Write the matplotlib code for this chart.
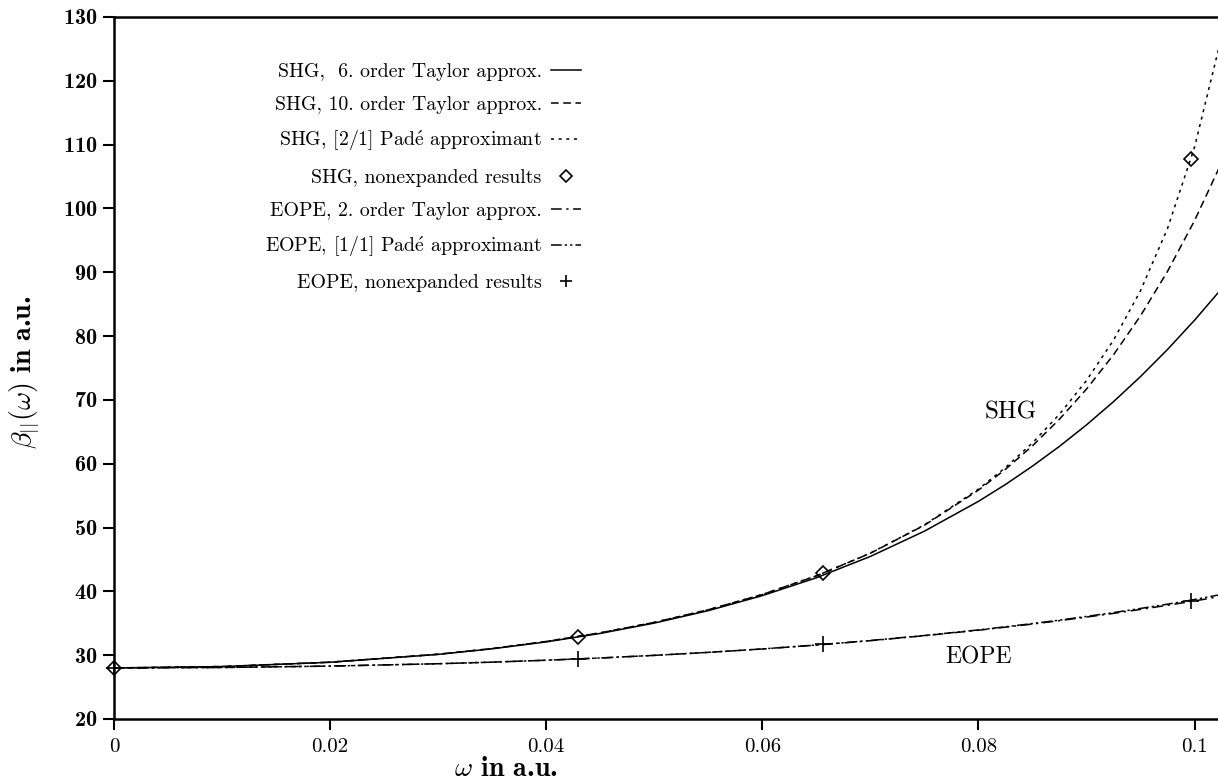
import numpy as np
import matplotlib
matplotlib.use("Agg")
import matplotlib.pyplot as plt
from matplotlib.lines import Line2D

plt.rcParams['font.family'] = ['cmr10', 'DejaVu Serif']
plt.rcParams['mathtext.fontset'] = 'cm'
plt.rcParams['axes.formatter.use_mathtext'] = True

omega = [0.0, 0.01, 0.02, 0.03, 0.035, 0.04, 0.045, 0.05, 0.055, 0.06, 0.065,
         0.07, 0.075, 0.08, 0.0825, 0.085, 0.0875, 0.09, 0.0925, 0.095, 0.0975, 0.1, 0.1025]

# SHG curves
shg_taylor6 = [28.0, 28.21, 28.89, 30.12, 31.0, 32.08, 33.41, 35.03, 36.98, 39.33, 42.13,
               45.47, 49.43, 54.1, 56.74, 59.62, 62.72, 66.08, 69.72, 73.65, 77.9, 82.48, 87.41]
shg_taylor10 = [28.0, 28.22, 28.9, 30.15, 31.04, 32.15, 33.5, 35.14, 37.12, 39.51, 42.42,
                45.97, 50.36, 55.86, 59.12, 62.8, 66.97, 71.69, 77.06, 83.17, 90.13, 98.08, 107.16]
shg_pade21 = [28.0, 28.22, 28.9, 30.15, 31.04, 32.15, 33.5, 35.14, 37.12, 39.51, 42.43,
              45.99, 50.41, 56.02, 59.39, 63.26, 67.75, 73.03, 79.35, 87.1, 96.85, 109.58, 126.85]

# EOPE curves
eope_taylor2 = [28.0, 28.07, 28.29, 28.66, 28.91, 29.21, 29.56, 29.97, 30.44, 30.97, 31.58,
                32.27, 33.05, 33.91, 34.39, 34.88, 35.41, 35.97, 36.55, 37.17, 37.82, 38.5, 39.22]
eope_pade11 = [28.0, 28.07, 28.29, 28.66, 28.91, 29.21, 29.56, 29.97, 30.44, 30.98, 31.6,
               32.3, 33.08, 33.96, 34.45, 34.95, 35.49, 36.07, 36.67, 37.32, 37.99, 38.72, 39.52]

# nonexpanded results
omega_pts = [0.0, 0.0429, 0.0656, 0.0997]
shg_pts = [28.0, 32.85, 42.9, 107.8]
eope_pts = [28.0, 29.4, 31.75, 38.5]

# Padé written with a mathtext accent so it stays in Computer Modern
pade = r"Pad$\mathrm{\acute{e}}$"
labels = ["SHG,  6. order Taylor approx.",
          "SHG, 10. order Taylor approx.",
          "SHG, [2/1] " + pade + " approximant",
          "SHG, nonexpanded results",
          "EOPE, 2. order Taylor approx.",
          "EOPE, [1/1] " + pade + " approximant",
          "EOPE, nonexpanded results"]

W, H = 1218, 782
fig = plt.figure(figsize=(W / 100, H / 100), dpi=100)
ax = fig.add_axes([114 / W, (H - 719) / H, (W - 114) / W + 0.002, 702 / H])

lw = 1.1
ls_dash = (0, (5, 3))
ls_dot = (0, (2, 3))
ls_dashdot = (0, (7, 3, 1.5, 3))
ls_dashdotdot = (0, (7, 2, 1.5, 2, 1.5, 2))

ax.plot(omega, shg_taylor6, color='k', lw=lw, ls='-')
ax.plot(omega, shg_taylor10, color='k', lw=lw, ls=ls_dash)
ax.plot(omega, shg_pade21, color='k', lw=lw, ls=ls_dot)
ax.plot(omega, eope_taylor2, color='k', lw=lw, ls=ls_dashdot)
ax.plot(omega, eope_pade11, color='k', lw=lw, ls=ls_dashdotdot)
ax.plot(omega_pts, shg_pts, ls='none', marker='D', ms=7, mfc='none', mec='k', mew=1.2, clip_on=False)
ax.plot(omega_pts, eope_pts, ls='none', marker='+', ms=11, mec='k', mew=1.2, clip_on=False)

ax.set_xlim(0, 0.1024)
ax.set_ylim(20, 130)
ax.set_xticks([0, 0.02, 0.04, 0.06, 0.08, 0.1])
ax.set_xticklabels(["0", "0.02", "0.04", "0.06", "0.08", "0.1"])
ax.set_yticks(range(20, 131, 10))
ax.tick_params(direction='out', length=8, width=1.5, pad=6)
ax.tick_params(axis='x', labelsize=15)
ax.tick_params(axis='y', labelsize=16, pad=4)
for lab in ax.get_yticklabels():
    lab.set_fontfamily(['cmb10', 'DejaVu Serif'])
for s in ['left', 'bottom', 'top']:
    ax.spines[s].set_linewidth(1.8)
ax.spines['right'].set_visible(False)

ax.set_xlabel(r"$\omega$ in a.u.", fontsize=20, fontfamily=['cmb10', 'DejaVu Serif'])
ax.xaxis.set_label_coords(0.354, -0.053)
ax.set_ylabel(r"$\beta_{||}(\omega)$ in a.u.", fontsize=20, fontfamily=['cmb10', 'DejaVu Serif'])
ax.yaxis.set_label_coords(-0.066, 0.494)

ax.text(0.083, 68.1, "SHG", fontsize=18, ha='center', va='center')
ax.text(0.080, 29.7, "EOPE", fontsize=17, ha='center', va='center')

handles = [Line2D([], [], color='k', lw=lw, ls='-'),
           Line2D([], [], color='k', lw=lw, ls=ls_dash),
           Line2D([], [], color='k', lw=lw, ls=ls_dot),
           Line2D([], [], ls='none', marker='D', ms=6, mfc='none', mec='k', mew=1.2),
           Line2D([], [], color='k', lw=lw, ls=ls_dashdot),
           Line2D([], [], color='k', lw=lw, ls=ls_dashdotdot),
           Line2D([], [], ls='none', marker='+', ms=9, mec='k', mew=1.2)]
leg = ax.legend(handles, labels, loc='upper left', bbox_to_anchor=(0.12, 0.96),
                frameon=False, markerfirst=False, fontsize=14.3, handlelength=1.55,
                handletextpad=0.45, labelspacing=0.76)

fig.savefig("out.png", dpi=100)
